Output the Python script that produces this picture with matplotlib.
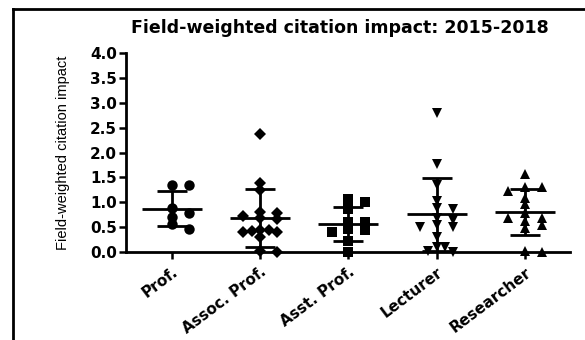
import numpy as np
import matplotlib
matplotlib.use("Agg")
import matplotlib.pyplot as plt
from matplotlib.lines import Line2D

# Field-weighted citation impact per academic rank, 2015-2018
categories = ["Prof.", "Assoc. Prof.", "Asst. Prof.", "Lecturer", "Researcher"]

prof = [1.35, 1.34, 0.88, 0.78, 0.70, 0.56, 0.47]
assoc_prof = [2.38, 1.38, 1.24, 0.80, 0.78, 0.72, 0.68, 0.66, 0.45, 0.44,
              0.42, 0.40, 0.40, 0.30, 0.02, 0.00]
asst_prof = [1.07, 1.00, 0.86, 0.60, 0.60, 0.47, 0.44, 0.40, 0.23, 0.00]
lecturer = [2.80, 1.78, 1.35, 1.02, 0.88, 0.86, 0.68, 0.65, 0.55, 0.51,
            0.50, 0.31, 0.11, 0.11, 0.03, 0.01]
researcher = [1.57, 1.30, 1.30, 1.23, 1.08, 0.96, 0.78, 0.68, 0.68, 0.62,
              0.55, 0.48, 0.03, 0.00]

groups = [prof, assoc_prof, asst_prof, lecturer, researcher]
markers = ["o", "D", "s", "v", "^"]
marker_sizes = [7.5, 6.5, 6.5, 7.5, 7.5]

yticks = [0.0, 0.5, 1.0, 1.5, 2.0, 2.5, 3.0, 3.5, 4.0]

W, H, DPI = 585, 340, 100
fig = plt.figure(figsize=(W / DPI, H / DPI), dpi=DPI)
fig.patch.set_facecolor("white")

ax_l, ax_r, ax_b, ax_t = 126, 570, 88, 286.7
ax = fig.add_axes([ax_l / W, ax_b / H, (ax_r - ax_l) / W, (ax_t - ax_b) / H])

xlim = (-0.52, 4.51)
ylim = (0.0, 4.0)
ax.set_xlim(*xlim)
ax.set_ylim(*ylim)

px_per_x = (ax_r - ax_l) / (xlim[1] - xlim[0])


def row_offsets(values, row_tol=0.10, max_px=16.7):
    """Column-scatter layout: close values share a row and fan out sideways."""
    vals = np.asarray(values, dtype=float)
    order = np.argsort(-vals, kind="stable")
    rows, current = [], [order[0]]
    for i in order[1:]:
        if vals[current[0]] - vals[i] <= row_tol:
            current.append(i)
        else:
            rows.append(current)
            current = [i]
    rows.append(current)

    offs = np.zeros(len(vals))
    for row in rows:
        k = len(row)
        if k == 1:
            continue
        step = max_px if k <= 3 else max_px / np.ceil((k - 1) / 2)
        slots = [0.0]
        n = 1
        while len(slots) < k:
            slots.append(n * step)
            if len(slots) < k:
                slots.append(-n * step)
            n += 1
        for idx, s in zip(row, slots):
            offs[idx] = s / px_per_x
    return offs


mean_half = 30 / px_per_x
cap_half = 15 / px_per_x

for pos, (vals, mk, ms) in enumerate(zip(groups, markers, marker_sizes)):
    vals = np.asarray(vals, dtype=float)
    xs = pos + row_offsets(vals)
    ax.plot(xs, vals, linestyle="none", marker=mk, markersize=ms,
            color="black", markeredgewidth=0, zorder=3, clip_on=False)
    m = vals.mean()
    sd = vals.std(ddof=1)
    lo, hi = max(m - sd, 0.0), m + sd
    ax.plot([pos, pos], [lo, hi], color="black", lw=2.0, zorder=4,
            solid_capstyle="butt")
    ax.plot([pos - mean_half, pos + mean_half], [m, m], color="black",
            lw=2.0, zorder=4, solid_capstyle="butt")
    for v in (lo, hi):
        ax.plot([pos - cap_half, pos + cap_half], [v, v], color="black",
                lw=2.0, zorder=4, solid_capstyle="butt")

for side in ("top", "right"):
    ax.spines[side].set_visible(False)
for side in ("left", "bottom"):
    ax.spines[side].set_linewidth(2.0)
    ax.spines[side].set_color("black")

ax.set_yticks(yticks)
ax.set_yticklabels([f"{t:.1f}" for t in yticks], fontfamily="DejaVu Sans",
                   fontweight="bold", fontsize=11)
ax.tick_params(axis="y", direction="out", length=5, width=1.8, pad=1.5)

ax.set_xticks(range(len(categories)))
ax.set_xticklabels(categories, fontfamily="DejaVu Sans", fontweight="bold",
                   fontsize=11, rotation=37, ha="right", va="top",
                   rotation_mode="anchor")
ax.tick_params(axis="x", direction="out", length=5, width=1.8, pad=4)

ax.set_ylabel("Field-weighted citation impact", fontfamily="Liberation Sans",
              fontsize=10.5, labelpad=4)
ax.yaxis.set_label_coords(-(126 - 70) / (ax_r - ax_l), 0.5)

fig.text(340 / W, 1 - 33 / H, "Field-weighted citation impact: 2015-2018",
         fontfamily="DejaVu Sans", fontweight="bold", fontsize=12.5,
         ha="center", va="baseline")

# outer frame (left and top edges)
fig.add_artist(Line2D([13 / W, 13 / W], [0, 1 - 8.7 / H], color="black",
                      lw=2.0, transform=fig.transFigure))
fig.add_artist(Line2D([13 / W, 1], [1 - 8.7 / H, 1 - 8.7 / H], color="black",
                      lw=2.0, transform=fig.transFigure))

fig.savefig("out.png", dpi=DPI)
